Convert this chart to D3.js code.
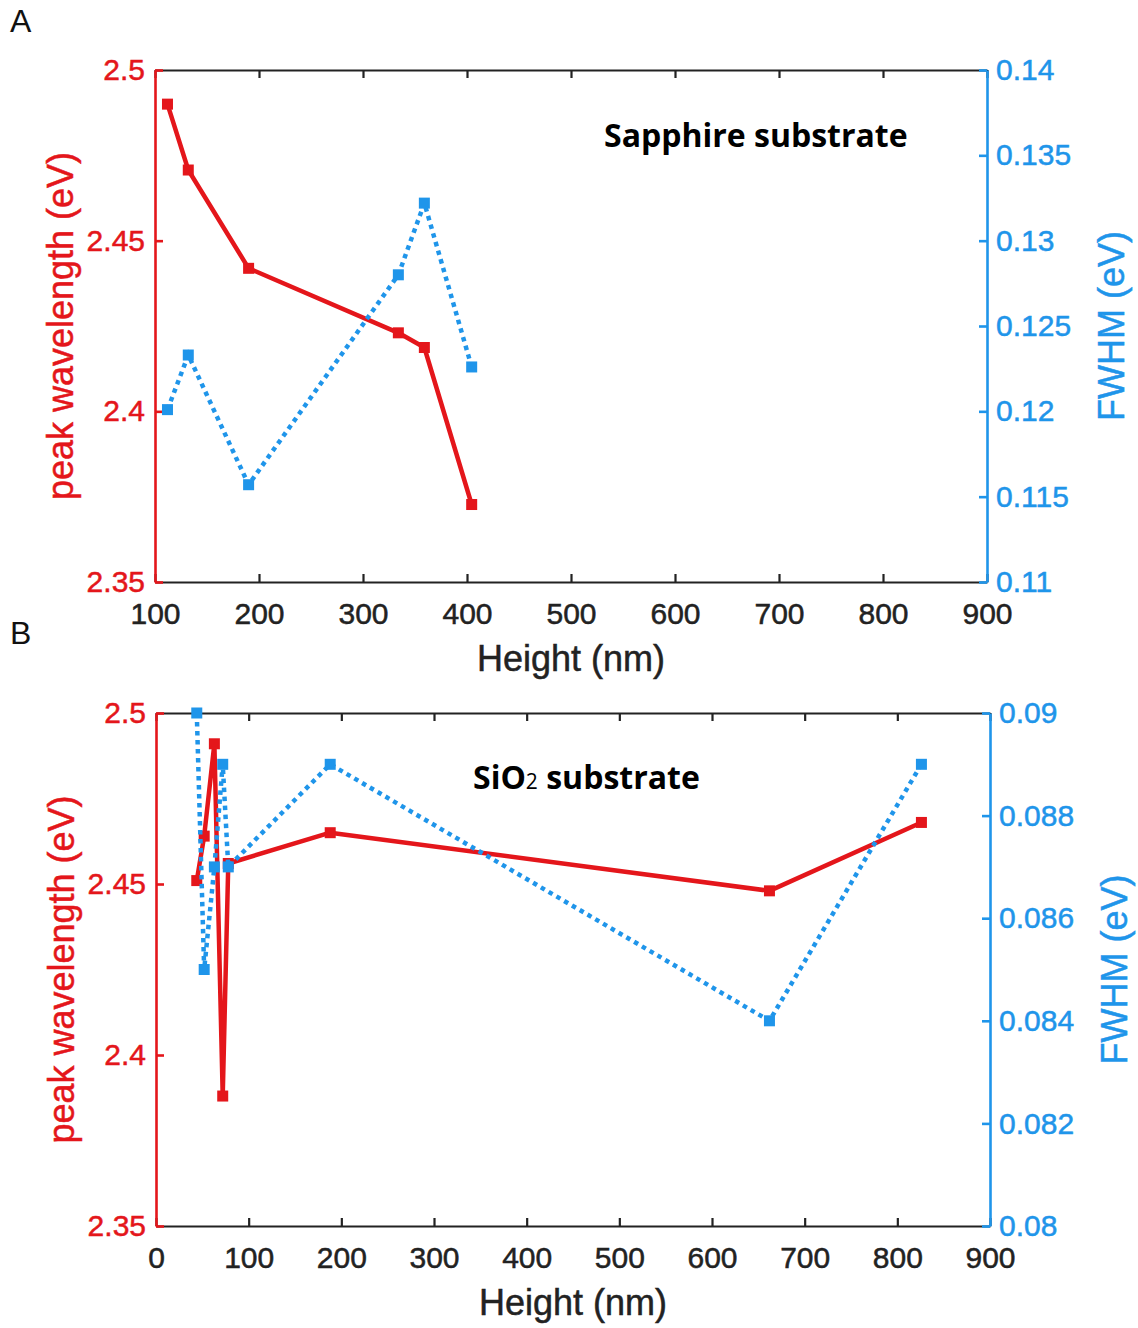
<!DOCTYPE html>
<html>
<head>
<meta charset="utf-8">
<script src="https://cdn.jsdelivr.net/npm/d3@7"></script>
<style>
  body { margin: 0; background: #fff; }
  svg text { font-family: "Liberation Sans", Arial, sans-serif; }
</style>
</head>
<body>
<div id="chart"></div>
<script>
// panel A - sapphire substrate
const heightA = [112, 132, 190, 334, 359, 404.5];
const peakA = [2.490, 2.4707, 2.4419, 2.423, 2.4187, 2.3727];
const fwhmA = [0.1201, 0.1233, 0.1157, 0.1280, 0.1322, 0.1226];

// panel B - SiO2 substrate
const heightB = [44, 52, 63, 72, 78, 188, 662, 826];
const peakB = [2.451, 2.464, 2.491, 2.388, 2.456, 2.465, 2.448, 2.468];
const fwhmB = [0.0900, 0.0850, 0.0870, 0.0890, 0.0870, 0.0890, 0.0840, 0.0890];

const xTicksA = [100, 200, 300, 400, 500, 600, 700, 800, 900];
const xTicksB = [0, 100, 200, 300, 400, 500, 600, 700, 800, 900];
const peakTicks = [2.35, 2.4, 2.45, 2.5];
const fwhmTicksA = [0.11, 0.115, 0.12, 0.125, 0.13, 0.135, 0.14];
const fwhmTicksB = [0.08, 0.082, 0.084, 0.086, 0.088, 0.09];

const RED = "#e4161b",
    BLUE = "#1f95ea";

let svg = d3.select("#chart")
    .append("svg")
    .attr("width", 1138)
    .attr("height", 1328);

function styleText(sel, col, size) {
    sel.attr("fill", col)
        .attr("stroke", col)
        .attr("stroke-width", 0.5)
        .style("font-size", size);
}

function drawPanel(opt) {
    let x = d3.scaleLinear().domain(opt.xDomain).range([opt.left, opt.right]);
    let yL = d3.scaleLinear().domain([2.35, 2.5]).range([opt.bottom, opt.top]);
    let yR = d3.scaleLinear().domain(opt.rDomain).range([opt.bottom, opt.top]);
    let fmt = d => +d.toFixed(4);

    let g = svg.append("g");

    // black top/bottom axes, ticks pointing inward
    let bottomAxis = g.append("g")
        .attr("transform", "translate(0," + opt.bottom + ")")
        .call(d3.axisBottom(x).tickValues(opt.xTicks).tickFormat(fmt)
            .tickSizeInner(-8).tickSizeOuter(0).tickPadding(21));
    let topAxis = g.append("g")
        .attr("transform", "translate(0," + opt.top + ")")
        .call(d3.axisTop(x).tickValues(opt.xTicks).tickFormat("")
            .tickSizeInner(-8).tickSizeOuter(0));
    [bottomAxis, topAxis].forEach(a => {
        a.selectAll("path,line").attr("stroke", "#222").attr("stroke-width", 2.2);
        styleText(a.selectAll("text"), "#222", "30px");
    });

    let leftAxis = g.append("g")
        .attr("transform", "translate(" + opt.left + ",0)")
        .call(d3.axisLeft(yL).tickValues(peakTicks).tickFormat(fmt)
            .tickSizeInner(-8).tickSizeOuter(0).tickPadding(10));
    leftAxis.selectAll("path,line").attr("stroke", RED).attr("stroke-width", 2.6);
    styleText(leftAxis.selectAll("text"), RED, "30px");

    let rightAxis = g.append("g")
        .attr("transform", "translate(" + opt.right + ",0)")
        .call(d3.axisRight(yR).tickValues(opt.rTicks).tickFormat(fmt)
            .tickSizeInner(-8).tickSizeOuter(0).tickPadding(9));
    rightAxis.selectAll("path,line").attr("stroke", BLUE).attr("stroke-width", 2.6);
    styleText(rightAxis.selectAll("text"), BLUE, "30px");

    // axis titles
    let midY = (opt.top + opt.bottom) / 2;
    styleText(g.append("text")
        .attr("transform", "translate(" + (opt.left - 82) + "," + midY + ") rotate(-90)")
        .attr("text-anchor", "middle")
        .text("peak wavelength (eV)"), RED, "36px");
    styleText(g.append("text")
        .attr("transform", "translate(" + (opt.right + 137) + "," + midY + ") rotate(-90)")
        .attr("text-anchor", "middle")
        .text("FWHM (eV)"), BLUE, "36px");
    styleText(g.append("text")
        .attr("x", (opt.left + opt.right) / 2)
        .attr("y", opt.bottom + 89)
        .attr("text-anchor", "middle")
        .text("Height (nm)"), "#222", "36px");

    // red series, solid
    let lineL = d3.line().x((d, i) => x(opt.xs[i])).y(d => yL(d));
    g.append("path")
        .datum(opt.peak)
        .attr("d", lineL)
        .attr("fill", "none")
        .attr("stroke", RED)
        .attr("stroke-width", 4.5)
        .attr("stroke-linejoin", "round");
    g.selectAll(".redPt")
        .data(opt.peak)
        .enter().append("rect")
        .attr("x", (d, i) => x(opt.xs[i]) - 5.5)
        .attr("y", d => yL(d) - 5.5)
        .attr("width", 11)
        .attr("height", 11)
        .attr("fill", RED);

    // blue series, dotted
    let lineR = d3.line().x((d, i) => x(opt.xs[i])).y(d => yR(d));
    g.append("path")
        .datum(opt.fwhm)
        .attr("d", lineR)
        .attr("fill", "none")
        .attr("stroke", BLUE)
        .attr("stroke-width", 4.5)
        .attr("stroke-dasharray", "4.5,4.5");
    g.selectAll(".bluePt")
        .data(opt.fwhm)
        .enter().append("rect")
        .attr("x", (d, i) => x(opt.xs[i]) - 5.5)
        .attr("y", d => yR(d) - 5.5)
        .attr("width", 11)
        .attr("height", 11)
        .attr("fill", BLUE);

    // panel letter
    svg.append("text")
        .attr("x", 10)
        .attr("y", opt.letterY)
        .attr("fill", "#111")
        .style("font-size", "32px")
        .text(opt.letter);

    return g;
}

let gA = drawPanel({
    letter: "A", letterY: 32,
    left: 155, right: 987, top: 70, bottom: 582,
    xDomain: [100, 900], xTicks: xTicksA,
    rDomain: [0.11, 0.14], rTicks: fwhmTicksA,
    xs: heightA, peak: peakA, fwhm: fwhmA
});

let gB = drawPanel({
    letter: "B", letterY: 644,
    left: 156, right: 990, top: 713, bottom: 1226,
    xDomain: [0, 900], xTicks: xTicksB,
    rDomain: [0.08, 0.09], rTicks: fwhmTicksB,
    xs: heightB, peak: peakB, fwhm: fwhmB
});

// substrate titles
gA.append("text")
    .attr("x", 604)
    .attr("y", 147)
    .style("font-family", "'Open Sans', sans-serif")
    .style("font-weight", "bold")
    .style("font-size", "32px")
    .attr("fill", "#000")
    .text("Sapphire substrate");

let tB = gB.append("text")
    .attr("x", 473)
    .attr("y", 789)
    .style("font-family", "'Open Sans', sans-serif")
    .style("font-weight", "bold")
    .style("font-size", "32px")
    .attr("fill", "#000");
tB.append("tspan").text("SiO");
tB.append("tspan").style("font-size", "21px").style("font-weight", "normal").text("2");
tB.append("tspan").text(" substrate");
</script>
</body>
</html>
